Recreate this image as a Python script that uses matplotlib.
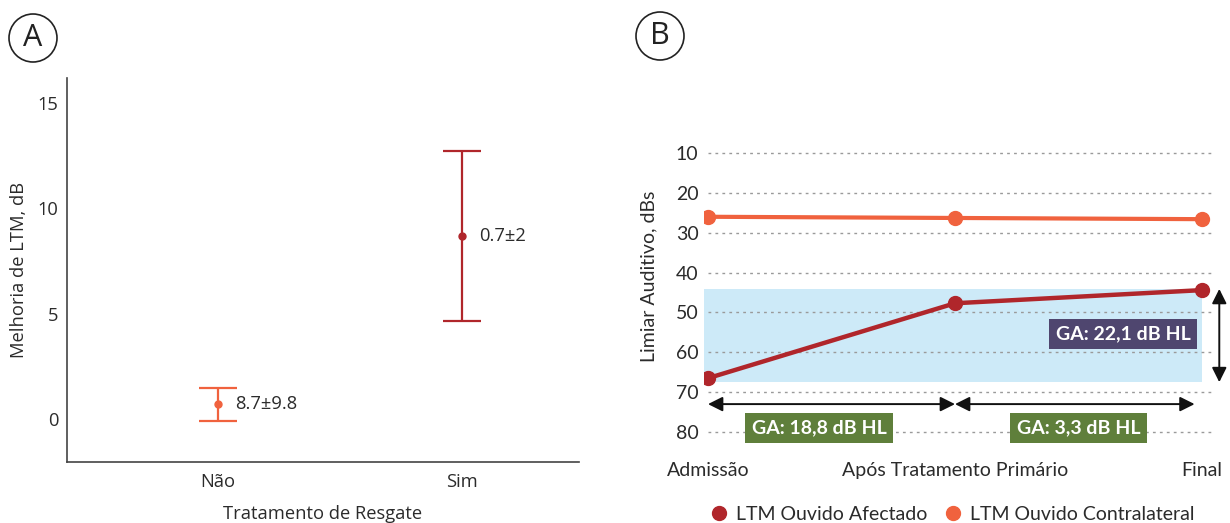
import matplotlib
matplotlib.use("Agg")
import matplotlib.pyplot as plt
from matplotlib.patches import Circle, Rectangle
from matplotlib.lines import Line2D

# ---------------- data ----------------
# Panel A
groups_a = ["Não", "Sim"]
means_a = [0.7, 8.7]
err_a = [0.78, 4.05]
labels_a = ["8.7±9.8", "0.7±2"]
colors_a = ["#F0623E", "#B0262B"]
yticks_a = [0, 5, 10, 15]

# Panel B
stages_b = ["Admissão", "Após Tratamento Primário", "Final"]
afectado_b = [66.5, 47.7, 44.4]
contralateral_b = [26.0, 26.3, 26.6]
yticks_b = [10, 20, 30, 40, 50, 60, 70, 80]
band_b = (44.1, 67.5)
ga_labels_b = ["GA: 18,8 dB HL", "GA: 3,3 dB HL", "GA: 22,1 dB HL"]

C_AFF = "#B0262B"
C_CON = "#F0623E"
TXT = "#2b2b2b"

fig = plt.figure(figsize=(12.3, 5.23), dpi=100)
W, H = 1230, 523

def ax_rect(x0, y0, x1, y1):
    return [x0 / W, 1 - y1 / H, (x1 - x0) / W, (y1 - y0) / H]

# ---------------- Panel A ----------------
fa = "Open Sans"
FSA = 13.2
axA = fig.add_axes(ax_rect(67, 78, 579, 462))
for i, (m, e, c) in enumerate(zip(means_a, err_a, colors_a)):
    axA.errorbar(i, m, yerr=e, fmt="o", color=c, ms=5, elinewidth=1.6,
                 capsize=14, capthick=1.6)
    axA.text(i + 0.07, m, labels_a[i], va="center", ha="left", fontsize=FSA,
             color=TXT, family=fa)
axA.set_xlim(-0.62, 1.48)
axA.set_ylim(-2.05, 16.2)
axA.set_xticks(range(len(groups_a)))
axA.set_xticklabels(groups_a, family=fa, fontsize=FSA, color=TXT)
axA.set_yticks(yticks_a)
axA.set_yticklabels([str(v) for v in yticks_a], family=fa, fontsize=FSA, color=TXT)
axA.tick_params(length=0)
axA.tick_params(axis="y", pad=6)
axA.tick_params(axis="x", pad=8)
axA.spines["top"].set_visible(False)
axA.spines["right"].set_visible(False)
for s in ["left", "bottom"]:
    axA.spines[s].set_color("#444444")
    axA.spines[s].set_linewidth(1.2)
axA.set_ylabel("Melhoria de LTM, dB", family=fa, fontsize=FSA, color=TXT)
axA.yaxis.set_label_coords((28 - 67) / (579 - 67), 0.5)
axA.set_xlabel("Tratamento de Resgate", family=fa, fontsize=FSA, color=TXT, labelpad=10)

# ---------------- Panel B ----------------
fb = "Lato"
axB = fig.add_axes(ax_rect(704, 140, 1225, 445))
px = 247.0
axB.set_xlim((704 - 708) / px, (1225 - 708) / px)
axB.set_ylim(80 + 13 / 3.986, 10 - 13 / 3.986)
xs = list(range(len(stages_b)))

for v in yticks_b:
    axB.plot([0.0, 2.04], [v, v], color="#9a9a9a", lw=1.0, ls=(0, (2, 3)), zorder=1)

axB.add_patch(Rectangle((-0.02, band_b[0]), 2.02, band_b[1] - band_b[0],
                        facecolor="#CDEAF8", edgecolor="none", zorder=0.5))

axB.plot(xs, contralateral_b, color=C_CON, lw=3, marker="o", ms=10, zorder=3)
axB.plot(xs, afectado_b, color=C_AFF, lw=3.2, marker="o", ms=10, zorder=4)

arrow_kw = dict(arrowstyle="<|-|>", color="#111111", lw=1.4, mutation_scale=22,
                shrinkA=0, shrinkB=0)
axB.annotate("", xy=(0.0, 73), xytext=(1.0, 73), arrowprops=arrow_kw, annotation_clip=False)
axB.annotate("", xy=(1.0, 73), xytext=(1.97, 73), arrowprops=arrow_kw, annotation_clip=False)
axB.annotate("", xy=(2.07, band_b[0]), xytext=(2.07, band_b[1]), arrowprops=arrow_kw,
             annotation_clip=False)

box_kw = dict(boxstyle="square,pad=0.35", edgecolor="none")
axB.text(0.45, 79, ga_labels_b[0], ha="center", va="center", color="white",
         fontsize=14, fontweight="bold", family=fb,
         bbox=dict(facecolor="#5F7F3B", **box_kw), zorder=5, clip_on=False)
axB.text(1.5, 79, ga_labels_b[1], ha="center", va="center", color="white",
         fontsize=14, fontweight="bold", family=fb,
         bbox=dict(facecolor="#5F7F3B", **box_kw), zorder=5, clip_on=False)
axB.text(1.68, 55.4, ga_labels_b[2], ha="center", va="center", color="white",
         fontsize=14, fontweight="bold", family=fb,
         bbox=dict(facecolor="#4F466F", **box_kw), zorder=5, clip_on=False)

axB.set_yticks(yticks_b)
axB.set_yticklabels([str(v) for v in yticks_b], family=fb, fontsize=14, color=TXT)
axB.set_xticks(xs)
axB.set_xticklabels(stages_b, family=fb, fontsize=14, color=TXT)
axB.tick_params(length=0)
axB.tick_params(axis="y", pad=4)
axB.tick_params(axis="x", pad=12)
for s in axB.spines.values():
    s.set_visible(False)
axB.set_ylabel("Limiar Auditivo, dBs", family=fb, fontsize=14, color=TXT)
axB.yaxis.set_label_coords((657 - 704) / (1225 - 704), (445 - 276) / (445 - 140))

handles = [Line2D([], [], ls="none", marker="o", ms=10, color=C_AFF),
           Line2D([], [], ls="none", marker="o", ms=10, color=C_CON)]
leg = fig.legend(handles, ["LTM Ouvido Afectado", "LTM Ouvido Contralateral"],
                 loc="center", bbox_to_anchor=(952 / W, 1 - 514 / H), ncol=2,
                 frameon=False, prop={"family": fb, "size": 14}, handletextpad=0.4,
                 columnspacing=0.8, handlelength=1.0)
for t in leg.get_texts():
    t.set_color(TXT)

# ---------------- panel letters ----------------
for cx, cy, letter in [(33, 38, "A"), (660, 36, "B")]:
    fig.patches.append(Circle((cx / 100, (H - cy) / 100), 0.24, transform=fig.dpi_scale_trans,
                              facecolor="none", edgecolor="#222222", lw=1.2))
    fig.text(cx / W, 1 - cy / H, letter, ha="center", va="center", fontsize=22,
             family="Open Sans", color="#222222")

fig.savefig("out.png", dpi=100)
